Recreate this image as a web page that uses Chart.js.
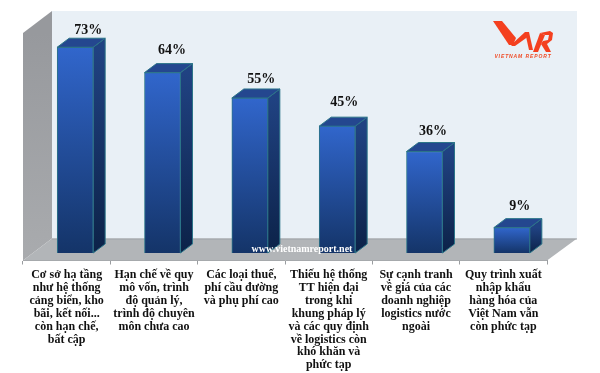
<!DOCTYPE html>
<html lang="vi">
<head>
<meta charset="UTF-8" />
<title>Vietnam Report logistics</title>
<script src="https://cdn.jsdelivr.net/npm/chart.js"></script>
<style>
  * { margin: 0; padding: 0; box-sizing: border-box; }
  html, body { width: 600px; height: 373px; background: #fff; overflow: hidden; }
  #wrap { position: relative; width: 600px; height: 373px; }
  #logoText { position: absolute; left: 491px; top: 52.5px; width: 64px; text-align: center;
    font: italic bold 5px "Liberation Sans", sans-serif; letter-spacing: 0.9px; color: #f04a24; white-space: nowrap; }
</style>
</head>
<body>
<div id="wrap">
  <canvas id="chart" width="600" height="373"></canvas>
  <div id="logoText">VIETNAM REPORT</div>
</div>
<script>
const categories = [
  ['Cơ sở hạ tầng', 'như hệ thống', 'cảng biển, kho', 'bãi, kết nối...', 'còn hạn chế,', 'bất cập'],
  ['Hạn chế về quy', 'mô vốn, trình', 'độ quản lý,', 'trình độ chuyên', 'môn chưa cao'],
  ['Các loại thuế,', 'phí cầu đường', 'và phụ phí cao'],
  ['Thiếu hệ thống', 'TT hiện đại', 'trong khi', 'khung pháp lý', 'và các quy định', 'về logistics còn', 'khó khăn và', 'phức tạp'],
  ['Sự cạnh tranh', 'về giá của các', 'doanh nghiệp', 'logistics nước', 'ngoài'],
  ['Quy trình xuất', 'nhập khẩu', 'hàng hóa của', 'Việt Nam vẫn', 'còn phức tạp']
];
const values = [73, 64, 55, 45, 36, 9];
const labelNudgeX = [13, 9.5, 11.5, 7, 8.5, 8];
const labelNudgeY = [-17, -22, -18.5, -24, -20, -21];

// front face of the bars sits this far inside the floor
const FRONT_DX = 8.5, FRONT_DY = -7.5;
const DEPTH_X = 12, DEPTH_Y = -9;
const WALL_DX = 29, WALL_DY = -22;
const WALL_TOP = 33;

function poly(ctx, pts, fill, stroke) {
  ctx.beginPath();
  pts.forEach((p, i) => i ? ctx.lineTo(p[0], p[1]) : ctx.moveTo(p[0], p[1]));
  ctx.closePath();
  ctx.fillStyle = fill;
  ctx.fill();
  if (stroke) { ctx.strokeStyle = stroke; ctx.lineWidth = 1; ctx.stroke(); }
}

const room = {
  id: 'room',
  beforeDatasetsDraw(chart) {
    const { ctx, chartArea: a } = chart;
    ctx.save();
    poly(ctx, [[a.left + WALL_DX, WALL_TOP + WALL_DY], [a.right + WALL_DX + 1, WALL_TOP + WALL_DY],
      [a.right + WALL_DX + 1, a.bottom + WALL_DY], [a.left + WALL_DX, a.bottom + WALL_DY]], '#e9f0f6');
    const g = ctx.createLinearGradient(0, WALL_TOP, 0, a.bottom);
    g.addColorStop(0, '#97999d');
    g.addColorStop(1, '#a9abae');
    poly(ctx, [[a.left, WALL_TOP], [a.left + WALL_DX, WALL_TOP + WALL_DY],
      [a.left + WALL_DX, a.bottom + WALL_DY], [a.left, a.bottom]], g);
    poly(ctx, [[a.left + WALL_DX, a.bottom + WALL_DY], [a.right + WALL_DX + 1, a.bottom + WALL_DY],
      [a.right, a.bottom], [a.left, a.bottom]], '#b2b5b8');
    ctx.strokeStyle = '#9ea3a8';
    ctx.lineWidth = 1;
    ctx.beginPath();
    ctx.moveTo(a.left + WALL_DX, a.bottom + WALL_DY + 0.5);
    ctx.lineTo(a.right + WALL_DX + 1, a.bottom + WALL_DY + 0.5);
    ctx.stroke();
    ctx.restore();
  },
  beforeDatasetDraw(chart) {
    const { ctx } = chart;
    ctx.save();
    ctx.translate(FRONT_DX, FRONT_DY);
    chart.getDatasetMeta(0).data.forEach(bar => {
      const l = bar.x - bar.width / 2, r = bar.x + bar.width / 2;
      const side = ctx.createLinearGradient(0, bar.y, 0, bar.base);
      side.addColorStop(0, '#204282');
      side.addColorStop(1, '#0c2248');
      poly(ctx, [[r, bar.y], [r + DEPTH_X, bar.y + DEPTH_Y], [r + DEPTH_X, bar.base + DEPTH_Y], [r, bar.base]], side, '#2b7488');
      poly(ctx, [[l, bar.y], [l + DEPTH_X, bar.y + DEPTH_Y], [r + DEPTH_X, bar.y + DEPTH_Y], [r, bar.y]], '#24478f', '#2b7488');
    });
  },
  afterDatasetDraw(chart) {
    chart.ctx.restore();
  },
  afterDatasetsDraw(chart) {
    const { ctx, chartArea: a } = chart;
    ctx.save();
    ctx.textAlign = 'center';
    ctx.textBaseline = 'middle';
    ctx.fillStyle = '#111';
    ctx.font = 'bold 14px "Liberation Serif", serif';
    chart.getDatasetMeta(0).data.forEach((bar, i) => {
      ctx.fillText(values[i] + '%', bar.x + FRONT_DX + labelNudgeX[i], bar.y + FRONT_DY + labelNudgeY[i]);
    });
    // watermark
    ctx.fillStyle = '#fff';
    ctx.font = 'bold 10px "Liberation Serif", serif';
    ctx.fillText('www.vietnamreport.net', 302, a.bottom - 11);
    // logo mark
    const red = '#f4401f';
    poly(ctx, [[493, 21], [502, 21], [516, 38], [513, 45], [509, 45]], red);
    poly(ctx, [[511, 45], [525, 32], [528, 32], [529, 36], [515, 46], [512, 46]], red);
    poly(ctx, [[525, 32], [529, 32], [533, 50], [529, 50]], red);
    poly(ctx, [[533, 52], [538, 52], [545, 35], [540, 33]], red);
    poly(ctx, [[540, 33], [550, 31], [553, 33], [552, 40], [547, 44], [551, 52], [546, 52], [541, 44], [543, 41], [548, 40], [549, 35], [545, 35]], red);
    ctx.restore();
  }
};

new Chart(document.getElementById('chart'), {
  type: 'bar',
  data: {
    labels: categories,
    datasets: [{
      data: values,
      barThickness: 36,
      borderWidth: 1,
      borderColor: '#2b7488',
      backgroundColor(c) {
        const y = c.chart.scales.y;
        const top = y ? y.getPixelForValue(c.raw) : NaN;
        const base = y ? y.getPixelForValue(0) : NaN;
        if (!Number.isFinite(top) || !Number.isFinite(base)) return '#2b5bb5';
        const g = c.chart.ctx.createLinearGradient(0, top, 0, base);
        g.addColorStop(0, '#3166cc');
        g.addColorStop(1, '#143468');
        return g;
      }
    }]
  },
  options: {
    responsive: false,
    animation: false,
    layout: { padding: { left: 23, right: 53, top: 35, bottom: 0 } },
    plugins: { legend: { display: false }, tooltip: { enabled: false } },
    scales: {
      y: { display: false, min: 0, max: 80 },
      x: {
        afterFit(s) { s.height = 112.5; },
        border: { color: '#9a9da0' },
        grid: { drawOnChartArea: false, tickLength: 4, color: '#9a9da0' },
        ticks: {
          maxRotation: 0, autoSkip: false, padding: 4, color: '#111',
          font: { family: '"Liberation Serif", serif', weight: 'bold', size: 12, lineHeight: 1.075 }
        }
      }
    }
  },
  plugins: [room]
});
</script>
</body>
</html>
